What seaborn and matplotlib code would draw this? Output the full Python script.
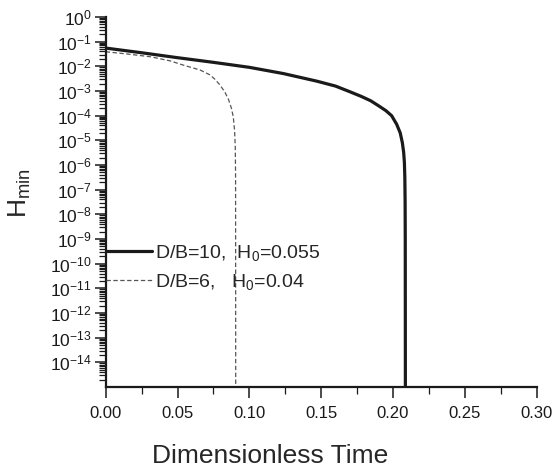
import numpy as np
import pandas as pd
import matplotlib
matplotlib.use("Agg")
import matplotlib.pyplot as plt
import matplotlib.ticker as mticker
import seaborn as sns

# values (H on a log axis)
t_db10 = [0.0, 0.025, 0.05, 0.075, 0.10, 0.1236, 0.147, 0.160, 0.170, 0.178,
          0.1845, 0.190, 0.195, 0.199, 0.2025, 0.2050, 0.2065, 0.2074, 0.2079,
          0.2082, 0.2084, 0.2085, 0.2086]
h_db10 = [5.5e-2, 3.55e-2, 2.24e-2, 1.45e-2, 9.1e-3, 5.1e-3, 2.5e-3, 1.58e-3, 9.3e-4, 6.0e-4,
          4.0e-4, 2.5e-4, 1.6e-4, 1.0e-4, 4.5e-5, 2.0e-5, 7.9e-6, 3.2e-6, 1.26e-6,
          3.2e-7, 3.2e-8, 1e-9, 1e-16]

t_db6 = [0.0, 0.015, 0.031, 0.045, 0.054, 0.0657, 0.0726, 0.076, 0.0796, 0.083,
         0.0855, 0.0875, 0.0888, 0.0897, 0.0902, 0.0904, 0.0905]
h_db6 = [3.9e-2, 3.16e-2, 2.45e-2, 1.66e-2, 1.12e-2, 7.1e-3, 4.5e-3, 3.0e-3, 1.74e-3, 8.9e-4,
         4.5e-4, 2.0e-4, 8.9e-5, 2.5e-5, 5.0e-6, 3.2e-7, 1e-16]

labels = ["D/B=10,  H$_0$=0.055", "D/B=6,   H$_0$=0.04"]
x_ticks = [0.00, 0.05, 0.10, 0.15, 0.20, 0.25, 0.30]
y_exponents = list(range(0, -15, -1))

sns.set_style("ticks")
plt.rcParams['font.family'] = ['Liberation Sans', 'DejaVu Sans']
plt.rcParams['mathtext.fontset'] = 'custom'
plt.rcParams['mathtext.rm'] = 'Liberation Sans'
plt.rcParams['mathtext.it'] = 'Liberation Sans:italic'
plt.rcParams['mathtext.bf'] = 'Liberation Sans:bold'

df10 = pd.DataFrame({"t": t_db10, "H": h_db10})
df6 = pd.DataFrame({"t": t_db6, "H": h_db6})

fig = plt.figure(figsize=(5.54, 4.72), dpi=100)
ax = fig.add_axes([0.1908, 0.180, 0.778, 0.784])

sns.lineplot(data=df10, x="t", y="H", ax=ax, color="#1a1a1a", lw=2.3,
             sort=False, estimator=None, label=labels[0])
sns.lineplot(data=df6, x="t", y="H", ax=ax, color="#555555", lw=0.9,
             sort=False, estimator=None, label=labels[1])
ax.lines[1].set_dashes([3.5, 2.0])

ax.set_yscale("log")
ax.set_xlim(0, 0.30)
ax.set_ylim(1e-15, 1)
ax.set_xticks(x_ticks)
ax.set_xticklabels([f"{v:.2f}" for v in x_ticks])
ax.xaxis.set_minor_locator(mticker.MultipleLocator(0.025))
ax.set_yticks([10.0 ** e for e in y_exponents])
ax.set_yticklabels([f"$10^{{{e}}}$" for e in y_exponents])
ax.yaxis.set_minor_locator(mticker.LogLocator(base=10, subs=np.arange(2, 10), numticks=100))
ax.yaxis.set_minor_formatter(mticker.NullFormatter())

ax.tick_params(axis="both", which="major", direction="out", length=8, width=1.1,
               labelsize=12, pad=2, colors="#1a1a1a")
ax.tick_params(axis="both", which="minor", direction="out", length=5, width=0.9,
               colors="#1a1a1a")
ax.tick_params(axis="y", labelsize=12.5)
ax.tick_params(axis="x", pad=6)

for s in ["top", "right"]:
    ax.spines[s].set_visible(False)
for s in ["left", "bottom"]:
    ax.spines[s].set_linewidth(1.6)
    ax.spines[s].set_color("#1a1a1a")

ax.set_xlabel("")
ax.set_ylabel("")
fig.text(0.488, 0.034, "Dimensionless Time", fontsize=19, ha="center", va="center")
fig.text(0.036, 0.59, "H$_{\\mathrm{min}}$", fontsize=19, rotation=90,
         ha="center", va="center")

ax.legend(loc="center left", bbox_to_anchor=(0.0, 0.323), frameon=False,
          fontsize=14, handlelength=2.4, handletextpad=0.15, borderpad=0,
          borderaxespad=0, labelspacing=0.45)

fig.savefig("out.png", dpi=100)
